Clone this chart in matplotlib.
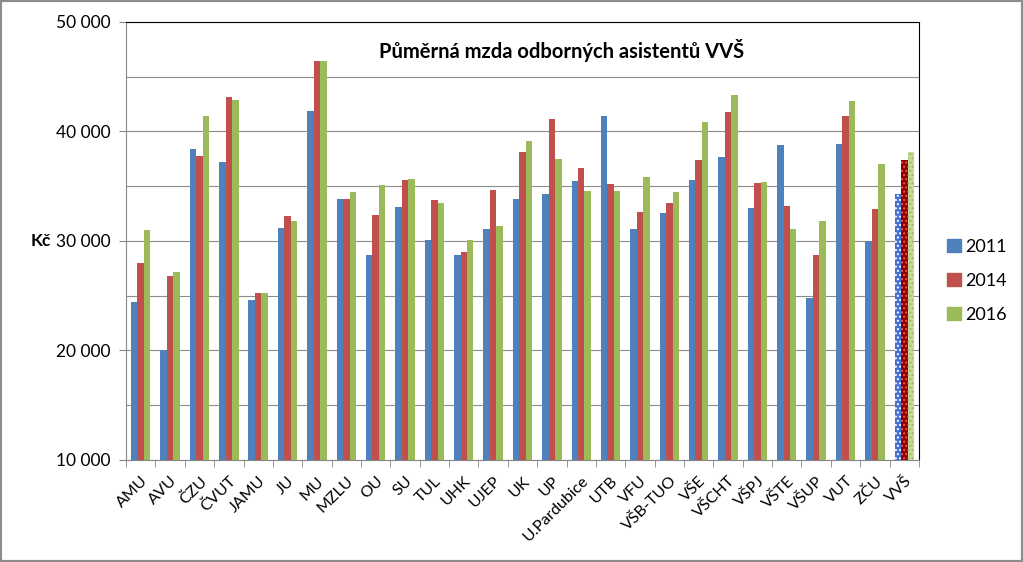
import numpy as np
import matplotlib.pyplot as plt
from matplotlib.ticker import MultipleLocator, FuncFormatter
from matplotlib.patches import Rectangle, Patch

plt.rcParams['font.family'] = ['Lato', 'DejaVu Sans']

# Data
skoly = ["AMU", "AVU", "ČZU", "ČVUT", "JAMU", "JU", "MU", "MZLU", "OU", "SU",
         "TUL", "UHK", "UJEP", "UK", "UP", "U.Pardubice", "UTB", "VFU",
         "VŠB-TUO", "VŠE", "VŠCHT", "VŠPJ", "VŠTE", "VŠUP", "VUT", "ZČU", "VVŠ"]
mzda_2011 = [24400, 20000, 38400, 37200, 24600, 31200, 41900, 33800, 28700, 33100,
             30100, 28700, 31100, 33850, 34300, 35500, 41400, 31050,
             32550, 35550, 37650, 33000, 38750, 24800, 38900, 30000, 34300]
mzda_2014 = [27950, 26800, 37800, 43150, 25250, 32300, 46400, 33800, 32350, 35550,
             33700, 29000, 34700, 38150, 41150, 36700, 35200, 32650,
             33450, 37400, 41750, 35300, 33200, 28700, 41400, 32900, 37400]
mzda_2016 = [31000, 27200, 41400, 42900, 25250, 31800, 46400, 34450, 35100, 35700,
             33450, 30100, 31350, 39150, 37450, 34550, 34600, 35800,
             34450, 40900, 43300, 35400, 31050, 31800, 42750, 37050, 38150]
roky = ["2011", "2014", "2016"]
barvy = ["#4F81BD", "#C0504D", "#9BBB59"]

fig = plt.figure(figsize=(10.23, 5.62), dpi=100)
ax = fig.add_axes([0.1232, 0.1815, 0.7751, 0.7794])

x = np.arange(len(skoly))
w = 0.22
serie = [mzda_2011, mzda_2014, mzda_2016]
for i, hodnoty in enumerate(serie):
    ax.bar(x + (i - 1) * w, hodnoty, width=w, color=barvy[i], zorder=3)

# VVŠ bars are drawn with a dotted fill
vzory = [("#3F6FD0", "white"), ("#8B0000", "#FF5050"), ("#C9DC9E", "#9BBB59")]
for i, hodnoty in enumerate(serie):
    ax.bar(x[-1] + (i - 1) * w, hodnoty[-1], width=w, color=vzory[i][0],
           edgecolor=vzory[i][1], hatch="....", linewidth=0, zorder=4)

ax.set_ylim(10000, 50000)
ax.set_xlim(-0.5, len(skoly) - 0.5)
ax.yaxis.set_major_locator(MultipleLocator(10000))
ax.yaxis.set_minor_locator(MultipleLocator(5000))
ax.yaxis.set_major_formatter(FuncFormatter(lambda v, p: f"{int(v):,}".replace(",", " ")))
ax.grid(axis="y", which="both", color="#8C8C8C", linewidth=0.8, zorder=0)
ax.tick_params(axis="y", which="major", labelsize=12.5, length=5, color="#868686", pad=6)
ax.tick_params(axis="y", which="minor", length=0)

ax.set_xticks(x)
ax.set_xticklabels(skoly, rotation=45, ha="right", rotation_mode="anchor", fontsize=11.5)
ax.set_xticks(np.arange(len(skoly) + 1) - 0.5, minor=True)
ax.tick_params(axis="x", which="major", length=0, pad=10)
ax.tick_params(axis="x", which="minor", length=5, color="#868686")

ax.spines["left"].set_color("#868686")
ax.spines["bottom"].set_color("#868686")
ax.spines["top"].set_color("black")
ax.spines["right"].set_color("black")

ax.text(0.549, 0.936, "Půměrná mzda odborných asistentů VVŠ", transform=ax.transAxes,
        ha="center", va="center", fontsize=14.5, fontweight="bold")
fig.text(0.04, 1 - 241 / 562, "Kč", ha="center", va="center", fontsize=12.5, fontweight="bold")

handles = [Patch(color=c) for c in barvy]
fig.legend(handles, roky, loc="center left", bbox_to_anchor=(0.91, 1 - 281 / 562),
           frameon=False, fontsize=13, handlelength=0.75, handleheight=0.75,
           handletextpad=0.25, labelspacing=1.0)

fig.patches.append(Rectangle((0, 0), 1, 1, transform=fig.transFigure, fill=False,
                             edgecolor="#8C8C8C", linewidth=3))

plt.savefig("out.png", dpi=100)
